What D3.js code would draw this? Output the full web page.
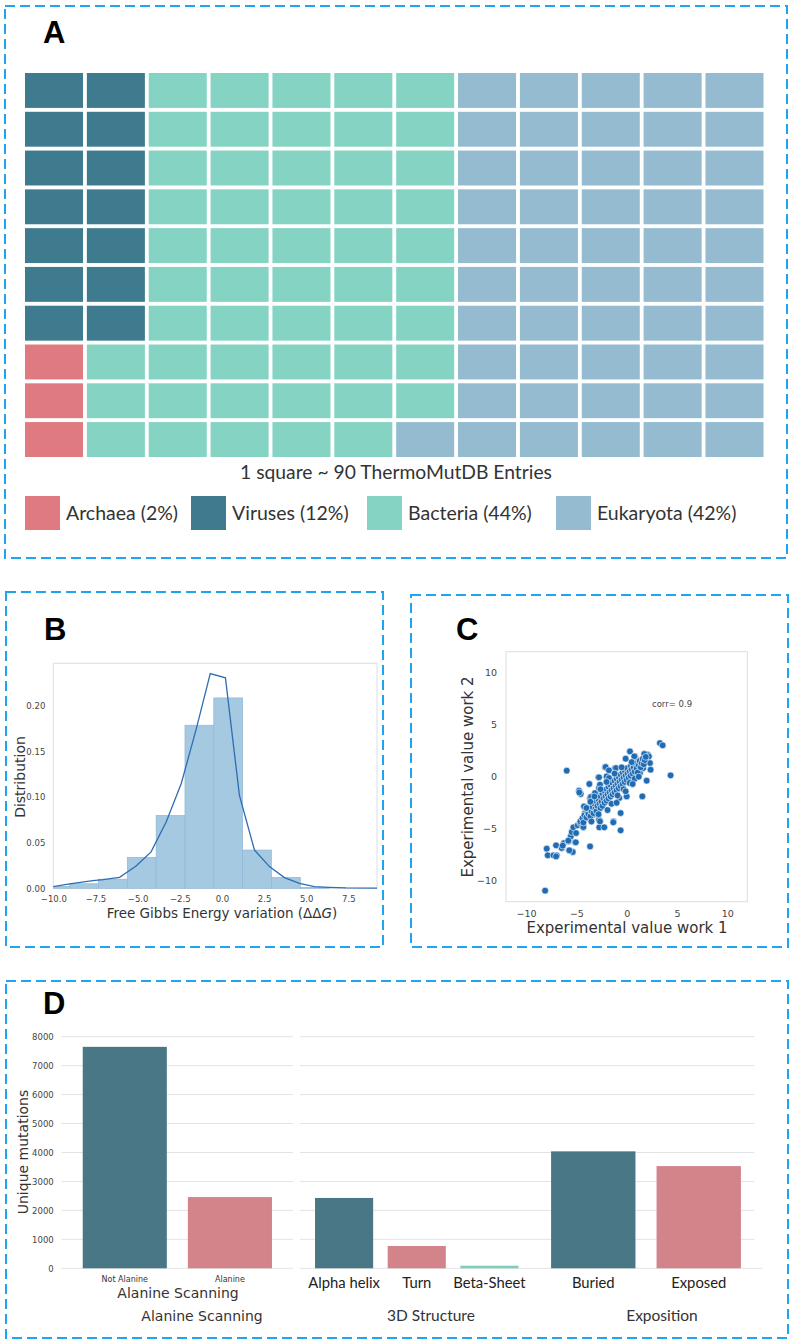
<!DOCTYPE html>
<html><head><meta charset="utf-8">
<script src="https://cdn.jsdelivr.net/npm/d3@7"></script>
<style>
html,body{margin:0;padding:0;background:#fff;}
svg{display:block;}
.tick line{display:none;}
</style></head>
<body>
<svg id="chart" width="795" height="1344"></svg>
<script>
// ---------------- DATA ----------------
// Panel A: waffle (1 square ~ 90 entries), category code per cell, row by row
const waffleCategories = ["Archaea", "Viruses", "Bacteria", "Eukaryota"];
const waffleCodes = {A: "Archaea", V: "Viruses", B: "Bacteria", E: "Eukaryota"};
const waffleRows = [
  "VVBBBBBEEEEE",
  "VVBBBBBEEEEE",
  "VVBBBBBEEEEE",
  "VVBBBBBEEEEE",
  "VVBBBBBEEEEE",
  "VVBBBBBEEEEE",
  "VVBBBBBEEEEE",
  "ABBBBBBEEEEE",
  "ABBBBBBEEEEE",
  "ABBBBBEEEEEE"
];
const waffleLegend = ["Archaea (2%)", "Viruses (12%)", "Bacteria (44%)", "Eukaryota (42%)"];
const waffleCaption = "1 square ~ 90 ThermoMutDB Entries";

// Panel B: histogram of ddG + KDE
const histEdges = [-10.74, -9.03, -7.32, -5.61, -3.90, -2.19, -0.48, 1.23, 2.94, 4.65, 6.36];
const histHeights = [0.002, 0.005, 0.010, 0.034, 0.080, 0.179, 0.209, 0.042, 0.012, 0.001];
const kdeX = [-10.0, -9.03, -7.65, -7.05, -6.07, -5.09, -4.2, -3.3, -2.41, -1.52, -0.69, 0.21, 1.04, 1.93, 2.82, 3.71, 4.60, 5.49, 6.38, 7.37, 9.2];
const kdeY = [0.0018, 0.0048, 0.0084, 0.0095, 0.012, 0.0245, 0.040, 0.073, 0.115, 0.175, 0.2357, 0.231, 0.102, 0.042, 0.0238, 0.0117, 0.0055, 0.0018, 0.0011, 0.0004, 0.0002];
const histXTicks = [-10, -7.5, -5, -2.5, 0, 2.5, 5, 7.5];
const histYTicks = [0, 0.05, 0.10, 0.15, 0.20];

// Panel C: experimental value work 1 vs work 2
const scatterX = [
 -8.11,-7.95,-7.85,-7.28,-7.02,-6.95,-6.46,-6.23,-5.79,-5.73,-5.36,-5.96,-5.56,-5.46,-5.30,-5.13,-5.03,-4.87,-4.74,-4.57,
 -4.47,-4.30,-4.24,-4.14,-3.97,-3.71,-3.64,-3.64,-3.48,-3.31,-3.15,-2.98,-2.81,-2.75,-2.75,-2.72,-2.48,-2.22,-2.15,-1.99,
 -1.75,-1.49,-1.32,-1.16,-0.83,-0.60,-0.60,-0.10,0.00,0.33,0.83,1.32,1.56,1.82,2.09,2.32,2.38,1.99,3.31,3.58,
 4.37,1.56,1.16,1.75,2.21,0.82,1.32,1.15,1.49,1.65,-7.02,-6.36,-5.80,-5.70,-5.06,-4.64,-4.31,-4.71,-3.55,-2.65,
 -1.33,-3.32,-2.09,-1.06,-1.76,-2.75,-2.65,0.76,-3.41,-0.73,
 -4.6,-4.4,-4.3,-4.2,-4.0,-3.9,-3.8,-3.7,-3.6,-3.5,-3.4,-3.3,-3.2,-3.1,-3.0,-3.0,-2.9,-2.8,-2.7,-2.6,
 -2.6,-2.5,-2.4,-2.4,-2.3,-2.2,-2.2,-2.1,-2.0,-2.0,-1.9,-1.8,-1.8,-1.7,-1.6,-1.6,-1.5,-1.4,-1.4,-1.3,
 -1.2,-1.2,-1.1,-1.0,-1.0,-0.9,-0.8,-0.8,-0.7,-0.6,-0.6,-0.5,-0.4,-0.4,-0.3,-0.2,-0.2,-0.1,0.0,0.0,
 0.1,0.2,0.3,0.4,0.4,0.5,0.6,0.7,0.8,0.9,1.0,1.1,1.2,1.3,1.4,1.5,1.6,1.7,1.8,1.9,
 -2.8,-3.6,-1.5,-0.9,-0.3,0.3,-2.0,-1.2,-2.6,-3.2,-0.5,0.8,1.2,0.5,-4.0,-3.5,-1.9,-1.0,-0.1,0.6
];
const scatterY = [
 -10.94,-6.91,-7.55,-7.55,-6.59,-7.55,-6.85,-6.37,-6.21,-7.07,-7.23,0.58,-5.73,-5.31,-4.86,-6.30,-5.41,-4.67,-1.34,-1.66,
 -4.35,-4.86,-2.85,-3.49,-3.97,-0.70,-2.05,-6.69,-2.85,-2.21,-1.57,-2.69,-0.06,-1.09,-4.13,-4.86,-2.05,-4.86,0.90,0.03,
 -0.13,-0.77,-4.29,0.83,-0.13,-3.49,-5.15,1.73,-1.89,2.43,1.95,0.90,-1.89,2.11,2.11,1.31,0.67,-0.38,3.23,3.01,
 0.13,1.15,1.15,2.18,1.95,1.95,0.36,1.54,1.15,0.83,-7.65,-6.62,-6.14,-7.07,-6.30,-4.45,-4.83,-1.51,-1.95,-4.29,
 -4.38,-3.65,0.93,0.83,0.61,-0.06,-0.77,1.95,-3.0,-2.05,
 -4.3,-4.0,-4.4,-3.7,-3.9,-3.4,-3.6,-3.1,-3.8,-3.3,-2.9,-3.5,-2.6,-3.1,-2.4,-3.3,-2.8,-2.2,-2.6,-3.0,
 -1.9,-2.4,-2.8,-1.6,-2.1,-2.5,-1.4,-1.9,-2.3,-1.2,-1.7,-2.1,-1.0,-1.5,-1.9,-0.8,-1.3,-1.7,-0.6,-1.1,
 -1.5,-0.4,-0.9,-1.3,-0.2,-0.7,-1.1,0.0,-0.5,-0.9,0.2,-0.3,-0.7,0.4,-0.1,-0.5,0.6,0.1,-0.3,0.8,
 0.3,-0.1,0.5,0.1,1.0,0.7,0.3,0.9,0.5,1.2,0.8,0.4,1.1,1.5,0.9,1.3,1.7,1.2,1.6,1.9,
 -3.6,-2.4,-2.6,-1.8,-1.2,-0.6,-0.5,0.3,-1.2,-1.9,0.9,-0.2,0.0,1.4,-3.0,-4.3,-3.2,-2.5,-1.4,-0.7
];
const scatterTicks = [-10, -5, 0, 5, 10];
const corrLabel = "corr= 0.9";

// Panel D: unique mutations per group
const groupTitles = ["Alanine Scanning", "3D Structure", "Exposition"];
const alanineCats = ["Not Alanine", "Alanine"];
const alanineVals = [7650, 2460];
const structureCats = ["Alpha helix", "Turn", "Beta-Sheet"];
const structureVals = [2430, 770, 90];
const expositionCats = ["Buried", "Exposed"];
const expositionVals = [4040, 3530];
const mutTicks = [0, 1000, 2000, 3000, 4000, 5000, 6000, 7000, 8000];

// ---------------- DRAWING ----------------
const svg = d3.select("#chart");
const BORDER = "#1ea5f2";
const DV = "'DejaVu Sans', sans-serif";
const LATO = "Lato, 'Open Sans', sans-serif";
const GRID = "#dedede";

function dashedBox(x0, y0, x1, y1) {
  svg.append("rect").attr("x", x0).attr("y", y0).attr("width", x1 - x0).attr("height", y1 - y0)
    .attr("fill", "none").attr("stroke", BORDER).attr("stroke-width", 2).attr("stroke-dasharray", "10,5");
}
function panelLetter(t, x, y) {
  svg.append("text").attr("x", x).attr("y", y).text(t)
    .attr("font-family", "'Liberation Sans', Arial, sans-serif").attr("font-weight", "bold")
    .attr("font-size", 31).attr("fill", "#000");
}

// ===== Panel A =====
dashedBox(5, 6, 787, 558);
panelLetter("A", 43, 43);

const wColor = {Archaea: "#e07a81", Viruses: "#3e7b8f", Bacteria: "#84d3c3", Eukaryota: "#94bbd0"};
const nCols = waffleRows[0].length;
const wx = d3.scaleBand().domain(d3.range(nCols)).range([25, 763.5]).paddingInner(0.062);
const wy = d3.scaleBand().domain(d3.range(waffleRows.length)).range([73, 457]).paddingInner(0.1);
const cells = [];
waffleRows.forEach((row, r) => row.split("").forEach((c, k) => cells.push({r, k, cat: waffleCodes[c]})));
svg.append("g").selectAll("rect").data(cells).join("rect")
  .attr("x", d => wx(d.k)).attr("y", d => wy(d.r))
  .attr("width", wx.bandwidth()).attr("height", wy.bandwidth())
  .attr("fill", d => wColor[d.cat]);

svg.append("text").attr("x", 396).attr("y", 479).attr("text-anchor", "middle")
  .attr("font-family", LATO).attr("font-size", 19.3).attr("fill", "#333").text(waffleCaption);

const legX = [25, 191, 367, 556];
const lg = svg.append("g").selectAll("g").data(waffleCategories).join("g")
  .attr("transform", (d, i) => `translate(${legX[i]},496)`);
lg.append("rect").attr("width", 35).attr("height", 34).attr("fill", d => wColor[d]);
lg.append("text").attr("x", 41).attr("y", 23.5).attr("font-family", LATO).attr("font-size", 19.5)
  .attr("fill", "#333").text((d, i) => waffleLegend[i]);

// ===== Panel B =====
dashedBox(6, 592, 383, 947);
panelLetter("B", 44, 640);
const bx = d3.scaleLinear().domain([-10, 9.2]).range([53.3, 377]);
const by = d3.scaleLinear().domain([0, 0.247]).range([888.3, 663.3]);
const gB = svg.append("g");
gB.append("g").attr("transform", "translate(0,888.3)")
  .call(d3.axisBottom(bx).tickValues(histXTicks).tickSize(-(888.3 - 663.3)).tickPadding(8).tickFormat(d3.format(".1f")))
  .call(g => { g.select(".domain").remove(); g.selectAll(".tick line").style("display", null).attr("stroke", GRID);
    g.selectAll("text").attr("font-family", DV).attr("font-size", 8.5).attr("fill", "#444"); });
gB.append("g").attr("transform", "translate(53.3,0)")
  .call(d3.axisLeft(by).tickValues(histYTicks).tickSize(-(377 - 53.3)).tickPadding(8).tickFormat(d3.format(".2f")))
  .call(g => { g.select(".domain").remove(); g.selectAll(".tick line").style("display", null).attr("stroke", GRID);
    g.selectAll("text").attr("font-family", DV).attr("font-size", 8.5).attr("fill", "#444"); });
gB.append("rect").attr("x", 53.3).attr("y", 663.3).attr("width", 377 - 53.3).attr("height", 888.3 - 663.3)
  .attr("fill", "none").attr("stroke", GRID);
const bins = histHeights.map((h, i) => ({x0: histEdges[i], x1: histEdges[i + 1], h}));
gB.append("defs").append("clipPath").attr("id", "clipB").append("rect")
  .attr("x", 53.3).attr("y", 660).attr("width", 377 - 53.3).attr("height", 230);
gB.append("g").attr("clip-path", "url(#clipB)").selectAll("rect").data(bins).join("rect")
  .attr("x", d => bx(d.x0)).attr("width", d => bx(d.x1) - bx(d.x0))
  .attr("y", d => by(d.h)).attr("height", d => by(0) - by(d.h))
  .attr("fill", "#a5c9e1").attr("stroke", "#8fb8d8").attr("stroke-width", 0.7);
gB.append("path").datum(kdeX.map((x, i) => [x, kdeY[i]]))
  .attr("d", d3.line().x(d => bx(d[0])).y(d => by(d[1])))
  .attr("fill", "none").attr("stroke", "#2f6db2").attr("stroke-width", 1.3);
const bt = gB.append("text").attr("x", 222).attr("y", 918).attr("text-anchor", "middle")
  .attr("font-family", DV).attr("font-size", 13.5).attr("fill", "#333");
bt.append("tspan").text("Free Gibbs Energy variation (ΔΔ");
bt.append("tspan").attr("font-style", "italic").text("G");
bt.append("tspan").text(")");
gB.append("text").attr("transform", "translate(25,777) rotate(-90)").attr("text-anchor", "middle")
  .attr("font-family", DV).attr("font-size", 14).attr("fill", "#333").text("Distribution");

// ===== Panel C =====
dashedBox(411, 595, 788, 947);
panelLetter("C", 456, 640);
const cx = d3.scaleLinear().domain([-12, 12]).range([506, 747.3]);
const cy = d3.scaleLinear().domain([-12, 12]).range([901.7, 651.7]);
const gC = svg.append("g");
gC.append("g").attr("transform", "translate(0,901.7)")
  .call(d3.axisBottom(cx).tickValues(scatterTicks).tickSize(-(901.7 - 651.7)).tickPadding(9))
  .call(g => { g.select(".domain").remove(); g.selectAll(".tick line").style("display", null).attr("stroke", GRID);
    g.selectAll("text").attr("font-family", DV).attr("font-size", 9.5).attr("fill", "#444"); });
gC.append("g").attr("transform", "translate(506,0)")
  .call(d3.axisLeft(cy).tickValues(scatterTicks).tickSize(-(747.3 - 506)).tickPadding(9))
  .call(g => { g.select(".domain").remove(); g.selectAll(".tick line").style("display", null).attr("stroke", GRID);
    g.selectAll("text").attr("font-family", DV).attr("font-size", 9.5).attr("fill", "#444"); });
gC.append("rect").attr("x", 506).attr("y", 651.7).attr("width", 747.3 - 506).attr("height", 901.7 - 651.7)
  .attr("fill", "none").attr("stroke", GRID);
gC.append("g").selectAll("circle").data(scatterX.map((x, i) => [x, scatterY[i]])).join("circle")
  .attr("cx", d => cx(d[0])).attr("cy", d => cy(d[1])).attr("r", 3.4)
  .attr("fill", "#1f6cb3").attr("stroke", "#fff").attr("stroke-width", 0.6);
gC.append("text").attr("x", 652).attr("y", 707).attr("font-family", DV).attr("font-size", 8.5)
  .attr("fill", "#444").text(corrLabel);
gC.append("text").attr("x", 627).attr("y", 933).attr("text-anchor", "middle")
  .attr("font-family", DV).attr("font-size", 15).attr("fill", "#333").text("Experimental value work 1");
gC.append("text").attr("transform", "translate(473,777) rotate(-90)").attr("text-anchor", "middle")
  .attr("font-family", DV).attr("font-size", 15).attr("fill", "#333").text("Experimental value work 2");

// ===== Panel D =====
dashedBox(6, 981, 788, 1338);
panelLetter("D", 43, 1014);
const dy = d3.scaleLinear().domain([0, 8000]).range([1268.3, 1036.7]);
const gD = svg.append("g");
// gridlines: two segments (composite of sub-plots)
[[61.7, 293], [300, 754]].forEach(([a, b]) => {
  gD.append("g").selectAll("line").data(mutTicks.slice(1)).join("line")
    .attr("x1", a).attr("x2", b).attr("y1", d => dy(d)).attr("y2", d => dy(d))
    .attr("stroke", "#e3e3e3").attr("stroke-width", 1);
});
gD.append("line").attr("x1", 61.7).attr("x2", 293).attr("y1", dy(0)).attr("y2", dy(0)).attr("stroke", "#e3e3e3");
gD.append("line").attr("x1", 300).attr("x2", 762).attr("y1", dy(0)).attr("y2", dy(0)).attr("stroke", "#e3e3e3");
gD.append("g").attr("transform", "translate(61.7,0)")
  .call(d3.axisLeft(dy).tickValues(mutTicks).tickSize(0).tickPadding(8).tickFormat(d3.format("d")))
  .call(g => { g.select(".domain").remove();
    g.selectAll("text").attr("font-family", DV).attr("font-size", 8.5).attr("fill", "#444"); });
gD.append("text").attr("transform", "translate(28,1152) rotate(-90)").attr("text-anchor", "middle")
  .attr("font-family", DV).attr("font-size", 14).attr("fill", "#333").text("Unique mutations");

const dColors = ["#4a7786", "#d2848a", "#7fcdbb"];
const groups = [
  {cats: alanineCats, vals: alanineVals, range: [61.7, 293]},
  {cats: structureCats, vals: structureVals, range: [300.5, 533]},
  {cats: expositionCats, vals: expositionVals, range: [530, 762]}
];
groups.forEach((g, gi) => {
  const sx = d3.scaleBand().domain(g.cats).range(g.range).padding(0.2);
  const data = g.cats.map((c, i) => ({c, v: g.vals[i], i}));
  gD.append("g").selectAll("rect").data(data).join("rect")
    .attr("x", d => sx(d.c)).attr("width", sx.bandwidth())
    .attr("y", d => dy(d.v)).attr("height", d => dy(0) - dy(d.v))
    .attr("fill", d => dColors[d.i]);
  const ax = gD.append("g").attr("transform", `translate(0,${dy(0)})`)
    .call(d3.axisBottom(sx).tickSize(0).tickPadding(gi === 0 ? 8 : 9))
    .call(s => s.select(".domain").remove());
  if (gi === 0) {
    ax.selectAll("text").attr("font-family", DV).attr("font-size", 8).attr("fill", "#333");
  } else {
    ax.selectAll("text").attr("font-family", LATO).attr("font-size", 14.8).attr("fill", "#222");
  }
});
gD.append("text").attr("x", 178).attr("y", 1298).attr("text-anchor", "middle")
  .attr("font-family", DV).attr("font-size", 14).attr("fill", "#333").text(groupTitles[0]);
const bottomTitleX = [202, 431, 662];
groupTitles.forEach((t, i) => {
  gD.append("text").attr("x", bottomTitleX[i]).attr("y", 1321).attr("text-anchor", "middle")
    .attr("font-family", i === 0 ? DV : LATO).attr("font-size", i === 0 ? 14 : 15.5)
    .attr("fill", "#333").text(t);
});
</script>
</body></html>
